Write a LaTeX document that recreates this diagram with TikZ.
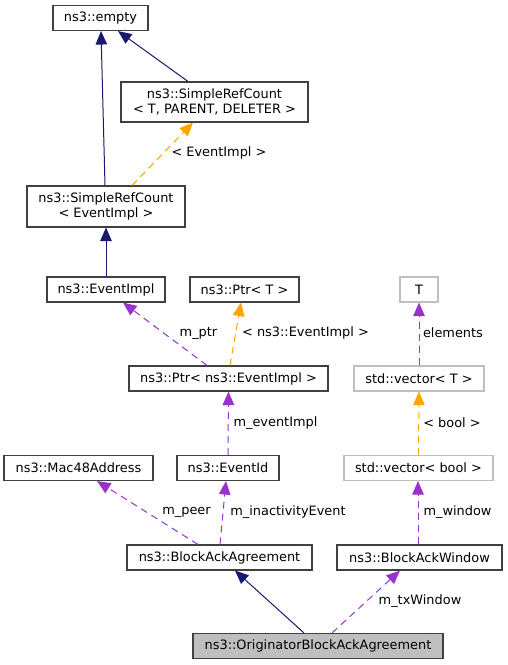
\documentclass[tikz,border=0pt]{standalone}
\usepackage{fontspec}
\setmainfont{DejaVu Sans}
\usetikzlibrary{arrows.meta}
\definecolor{inhnavy}{RGB}{25,25,112}
\definecolor{tmplorange}{RGB}{255,165,0}
\definecolor{usepurple}{RGB}{153,50,204}
\definecolor{boxline}{RGB}{64,64,64}
\definecolor{extline}{RGB}{191,191,191}

\begin{document}
\begin{tikzpicture}[x=1pt,y=-1pt,font=\fontsize{12.9}{15}\selectfont,>={Triangle[length=13.5pt,width=11.5pt]}]
  \tikzstyle{cls}=[draw=boxline,line width=1.1pt,minimum height=25pt,inner sep=0pt,align=center]
  \tikzstyle{ext}=[cls,draw=extline]
  \tikzstyle{inherit}=[->,inhnavy,line width=1pt]
  \tikzstyle{member}=[->,usepurple,line width=1pt,dash pattern=on 7pt off 5pt]
  \tikzstyle{tmpl}=[->,tmplorange,line width=1pt,dash pattern=on 7pt off 5pt]
  \tikzstyle{lbl}=[inner sep=0pt]
  \useasboundingbox (0,0) rectangle (507,665);
  % classes
  \node[cls,minimum width=95pt] (empty) at (100.5,18) {ns3::empty};
  \node[cls,minimum width=187pt,minimum height=40pt] (srct) at (214.5,102) {ns3::SimpleRefCount\\< T, PARENT, DELETER >};
  \node[cls,minimum width=158pt,minimum height=41pt] (srce) at (106,206.5) {ns3::SimpleRefCount\\< EventImpl >};
  \node[cls,minimum width=118pt] (eventimpl) at (106,289.5) {ns3::EventImpl};
  \node[cls,minimum width=109pt] (ptrt) at (244.5,289.5) {ns3::Ptr< T >};
  \node[ext,minimum width=38pt] (tnode) at (419,289.5) {T};
  \node[cls,minimum width=199pt] (ptre) at (228.5,378.5) {ns3::Ptr< ns3::EventImpl >};
  \node[ext,minimum width=130pt] (vect) at (419,378.5) {std::vector< T >};
  \node[cls,minimum width=149pt] (mac) at (78.5,468) {ns3::Mac48Address};
  \node[cls,minimum width=102pt] (eventid) at (228,468) {ns3::EventId};
  \node[ext,minimum width=149pt] (vecb) at (418.5,468) {std::vector< bool >};
  \node[cls,minimum width=185pt] (baa) at (219.5,557.5) {ns3::BlockAckAgreement};
  \node[cls,minimum width=165pt] (baw) at (419.5,557.5) {ns3::BlockAckWindow};
  \node[cls,fill=extline,minimum width=250pt] (oba) at (318,646) {ns3::OriginatorBlockAckAgreement};
  % relations
  \draw[inherit] ([xshift=-1pt]srce.north) -- ([xshift=0.5pt]empty.south);
  \draw[inherit] ([xshift=-26.5pt]srct.north) -- ([xshift=17.5pt]empty.south);
  \draw[tmpl] ([xshift=26pt]srce.north) -- ([xshift=-21.5pt]srct.south);
  \draw[inherit] (eventimpl.north) -- (srce.south);
  \draw[member] ([xshift=-21.5pt]ptre.north) -- ([xshift=17pt]eventimpl.south);
  \draw[tmpl] ([xshift=1.5pt]ptre.north) -- ([xshift=-3.5pt]ptrt.south);
  \draw[member] (eventid.north) -- (ptre.south);
  \draw[member] (vect.north) -- (tnode.south);
  \draw[tmpl] (vecb.north) -- (vect.south);
  \draw[member] ([xshift=-21.5pt]baa.north) -- ([xshift=18.5pt]mac.south);
  \draw[member] ([xshift=0.5pt]baa.north) -- ([xshift=-2pt]eventid.south);
  \draw[member] ([xshift=-1.5pt]baw.north) -- ([xshift=-0.5pt]vecb.south);
  \draw[inherit] ([xshift=-14pt]oba.north) -- ([xshift=15.5pt]baa.south);
  \draw[member] ([xshift=14pt]oba.north) -- ([xshift=-19.5pt]baw.south);
  % labels
  \node[lbl] (lsrce) at (219,153) {< EventImpl >};
  \node[lbl] (lptr) at (198.5,333) {m\_ptr};
  \node[lbl] (lptrt) at (305.5,333) {< ns3::EventImpl >};
  \node[lbl] (lelem) at (453,333) {elements};
  \node[lbl] (levimpl) at (275.5,423) {m\_eventImpl};
  \node[lbl] (lbool) at (452,423) {< bool >};
  \node[lbl] (lpeer) at (186.5,512) {m\_peer};
  \node[lbl] (linact) at (288,512) {m\_inactivityEvent};
  \node[lbl] (lwin) at (457.5,512) {m\_window};
  \node[lbl] (ltxwin) at (420,601) {m\_txWindow};
\end{tikzpicture}
\end{document}
